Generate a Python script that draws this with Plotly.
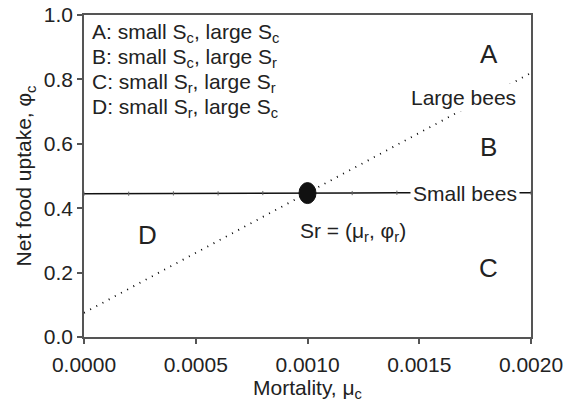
import plotly.graph_objects as go

# ---- data ----
mortality_ticks = [0.0, 0.0005, 0.0010, 0.0015, 0.0020]
uptake_ticks = [0.0, 0.2, 0.4, 0.6, 0.8, 1.0]

# "Small bees" isocline (nearly flat)
small_x = [0.0, 0.0002, 0.0004, 0.0006, 0.0008, 0.0010, 0.0012, 0.0014, 0.0016, 0.0018, 0.0020]
small_y = [0.445, 0.445, 0.446, 0.446, 0.447, 0.447, 0.447, 0.448, 0.448, 0.448, 0.448]

# "Large bees" isocline (dotted)
large_x = [0.0, 0.0020]
large_y = [0.075, 0.82]

# Sr point
sr_x = [0.0010]
sr_y = [0.447]

# region letters
region_labels = ["A", "B", "C", "D"]
region_x = [0.00181, 0.00181, 0.00181, 0.000286]
region_y = [0.879, 0.590, 0.214, 0.317]

key_lines = [
    "A: small S<sub>c</sub>, large S<sub>c</sub>",
    "B: small S<sub>c</sub>, large S<sub>r</sub>",
    "C: small S<sub>r</sub>, large S<sub>r</sub>",
    "D: small S<sub>r</sub>, large S<sub>c</sub>",
]

FONT = "Liberation Sans, Arial, sans-serif"
FS = 21      # ticks / titles
AFS = 21     # labels
LFS = 26     # region letters
TXT = "#222222"

fig = go.Figure()

fig.add_trace(go.Scatter(
    x=large_x, y=large_y, mode="lines",
    line=dict(color="black", width=1.8, dash="1px,6px"),
    hoverinfo="skip", showlegend=False, cliponaxis=False,
))
fig.add_trace(go.Scatter(
    x=small_x, y=small_y, mode="lines+markers",
    line=dict(color="#111111", width=1.6),
    marker=dict(symbol="line-ns", size=3, line=dict(width=1, color="#666666")),
    hoverinfo="skip", showlegend=False, cliponaxis=False,
))

# Sr point drawn as an ellipse anchored on the data point
fig.add_shape(
    type="circle", xref="x", yref="y",
    xsizemode="pixel", ysizemode="pixel",
    xanchor=sr_x[0], yanchor=sr_y[0],
    x0=-8.5, x1=8.5, y0=-10.5, y1=10.5,
    fillcolor="#111111", line=dict(color="#111111", width=1),
    layer="above",
)

annotations = []
for lab, xv, yv in zip(region_labels, region_x, region_y):
    annotations.append(dict(x=xv, y=yv, xref="x", yref="y", text=lab,
                            showarrow=False, font=dict(size=LFS, color=TXT, family=FONT)))

annotations.append(dict(x=0.00170, y=0.745, xref="x", yref="y", text="Large bees",
                        showarrow=False, bgcolor="white", borderpad=2,
                        font=dict(size=AFS, color=TXT, family=FONT)))
annotations.append(dict(x=0.001705, y=sr_y[0], xref="x", yref="y", text="Small bees",
                        showarrow=False, bgcolor="white", borderpad=2,
                        font=dict(size=AFS, color=TXT, family=FONT)))
annotations.append(dict(x=0.001204, y=0.326, xref="x", yref="y",
                        text="Sr = (\u03bc<sub>r</sub>, \u03c6<sub>r</sub>)",
                        showarrow=False, font=dict(size=AFS, color=TXT, family=FONT)))

for i, line in enumerate(key_lines):
    annotations.append(dict(x=0.0134, y=0.944 - i * 0.0776, xref="paper", yref="paper",
                            text=line, showarrow=False, xanchor="left", yanchor="middle",
                            font=dict(size=AFS, color=TXT, family=FONT)))

fig.update_layout(
    width=576, height=406,
    margin=dict(l=84, r=45, t=15, b=69),
    paper_bgcolor="white", plot_bgcolor="white",
    font=dict(family=FONT, size=FS, color=TXT),
    annotations=annotations,
    showlegend=False,
)

fig.update_xaxes(
    range=[0, 0.002], tickvals=mortality_ticks, tickformat=".4f",
    showgrid=False, zeroline=False,
    showline=True, linecolor="#555555", linewidth=1.6, mirror=True,
    ticks="outside", ticklen=5, tickwidth=1.6, tickcolor="#555555",
    ticklabelstandoff=3,
    tickfont=dict(size=FS, color=TXT, family=FONT),
    title=dict(text="Mortality, \u03bc<sub>c</sub>", standoff=5,
               font=dict(size=FS, color=TXT, family=FONT)),
    automargin=False,
)
fig.update_yaxes(
    range=[0, 1], tickvals=uptake_ticks, tickformat=".1f",
    showgrid=False, zeroline=False,
    showline=True, linecolor="#555555", linewidth=1.6, mirror=True,
    ticks="outside", ticklen=5, tickwidth=1.6, tickcolor="#555555",
    tickfont=dict(size=FS, color=TXT, family=FONT),
    title=dict(text="Net food uptake, \u03c6<sub>c</sub>", standoff=6,
               font=dict(size=FS, color=TXT, family=FONT)),
    automargin=False,
)

fig.write_html("out.html", config={"displayModeBar": False})
